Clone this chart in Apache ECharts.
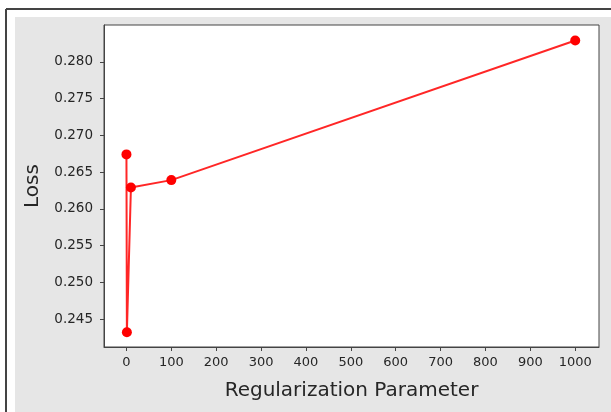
<!DOCTYPE html>
<html>
<head>
<meta charset="utf-8">
<script src="https://cdn.jsdelivr.net/npm/echarts@6/dist/echarts.min.js"></script>
<style>
  html, body { margin: 0; padding: 0; background: #fff; }
  #chart { width: 611px; height: 412px; }
</style>
</head>
<body>
<div id="chart"></div>
<script>
  // regularization parameter vs loss
  const regParams = [0.01, 1, 10, 100, 1000];
  const lossValues = [0.2674, 0.2432, 0.2629, 0.2639, 0.2829];
  const xTicks = [0, 100, 200, 300, 400, 500, 600, 700, 800, 900, 1000];
  const yTicks = [0.245, 0.250, 0.255, 0.260, 0.265, 0.270, 0.275, 0.280];

  const axisColor = '#444';
  const textColor = '#262626';
  const font = 'DejaVu Sans';

  let chart = echarts.init(document.getElementById('chart'));
  chart.setOption({
    animation: false,
    textStyle: { fontFamily: font },
    graphic: [
      // gray figure background + notebook cell frame
      { type: 'rect', z: -10, shape: { x: 15, y: 17, width: 600, height: 400 }, style: { fill: '#e6e6e6' } },
      { type: 'line', z: -5, shape: { x1: 6, y1: 9, x2: 611, y2: 9 }, style: { stroke: '#444', lineWidth: 2 } },
      { type: 'line', z: -5, shape: { x1: 6, y1: 9, x2: 6, y2: 412 }, style: { stroke: '#444', lineWidth: 2 } }
    ],
    grid: {
      left: 104, top: 25, right: 12, bottom: 65,
      show: true,
      backgroundColor: '#fff',
      borderColor: axisColor,
      borderWidth: 1
    },
    xAxis: {
      type: 'value',
      min: -50,
      max: 1053,
      name: 'Regularization Parameter',
      nameLocation: 'middle',
      nameGap: 34,
      nameTextStyle: { fontSize: 20, color: textColor, fontFamily: font },
      splitLine: { show: false },
      axisLine: { show: true, onZero: false, lineStyle: { color: axisColor } },
      axisTick: { show: true, customValues: xTicks, length: 4, lineStyle: { color: axisColor } },
      axisLabel: {
        customValues: xTicks, color: textColor, fontSize: 13, margin: 9, fontFamily: font,
        formatter: v => String(v)
      }
    },
    yAxis: {
      type: 'value',
      min: 0.2412,
      max: 0.2850,
      name: 'Loss',
      nameLocation: 'middle',
      nameGap: 61,
      nameTextStyle: { fontSize: 20, color: textColor, fontFamily: font },
      splitLine: { show: false },
      axisLine: { show: true, onZero: false, lineStyle: { color: axisColor } },
      axisTick: { show: true, customValues: yTicks, length: 4, lineStyle: { color: axisColor } },
      axisLabel: {
        customValues: yTicks, color: textColor, fontSize: 13.5, margin: 11, fontFamily: font,
        formatter: v => v.toFixed(3)
      }
    },
    series: [
      {
        type: 'line',
        data: regParams.map((x, i) => [x, lossValues[i]]),
        symbol: 'circle',
        symbolSize: 10,
        itemStyle: { color: '#ff0000' },
        lineStyle: { color: '#ff0000', width: 2, opacity: 0.85 }
      }
    ]
  });
</script>
</body>
</html>
